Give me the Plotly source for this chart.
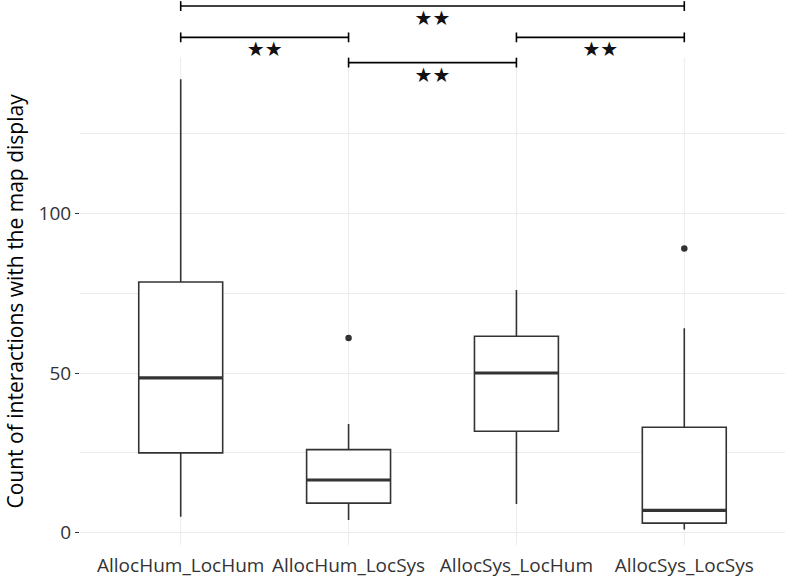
import plotly.graph_objects as go

# ---- data ----
groups = ["AllocHum_LocHum", "AllocHum_LocSys", "AllocSys_LocHum", "AllocSys_LocSys"]
lower_whisker = [5, 4, 9, 1]
q1_vals = [25, 9.25, 31.75, 3]
median_vals = [48.5, 16.5, 50, 7]
q3_vals = [78.5, 26, 61.5, 33]
upper_whisker = [142, 34, 76, 64]
outlier_group_idx = [1, 3]
outlier_values = [61, 89]

bracket_start = [0, 0, 2, 1]
bracket_end = [3, 1, 3, 2]
bracket_level = [164.9, 155.1, 155.1, 147.2]
bracket_label = ["★★", "★★", "★★", "★★"]
label_level = [160.6, 150.8, 150.8, 142.6]

y_ticks = [0, 50, 100]
y_minor = [25, 75, 125]
y_title = "Count of interactions with the map display"

# ---- styling ----
dark = "#333333"
grid = "#EBEBEB"
font_family = "Open Sans, Noto Sans, sans-serif"
xpos = list(range(len(groups)))
panel_top = 148.9
panel_bottom = -3.85

fig = go.Figure()

# vertical gridlines limited to the panel
for x in xpos:
    fig.add_shape(type="line", x0=x, x1=x, y0=panel_bottom, y1=panel_top,
                  xref="x", yref="y", line=dict(color=grid, width=1), layer="below")

fig.add_trace(go.Box(
    x=xpos, q1=q1_vals, median=median_vals, q3=q3_vals,
    lowerfence=lower_whisker, upperfence=upper_whisker,
    width=0.5, whiskerwidth=0, fillcolor="white",
    line=dict(color=dark, width=1.6), boxpoints=False, showlegend=False,
    hoverinfo="skip"))

# thicker median lines
fig.add_trace(go.Scatter(
    x=xpos, y=median_vals, mode="markers", showlegend=False, hoverinfo="skip",
    marker=dict(symbol="line-ew", size=60, line=dict(color=dark, width=3.2))))

# outliers
fig.add_trace(go.Scatter(
    x=outlier_group_idx, y=outlier_values, mode="markers", showlegend=False,
    marker=dict(color=dark, size=6.5)))

# significance brackets
for s, e, lvl, lab, ll in zip(bracket_start, bracket_end, bracket_level, bracket_label, label_level):
    fig.add_trace(go.Scatter(
        x=[s, e], y=[lvl, lvl], mode="lines+markers", showlegend=False, hoverinfo="skip",
        line=dict(color="black", width=1.6),
        marker=dict(symbol="line-ns", size=7, line=dict(color="black", width=1.6))))
    fig.add_trace(go.Scatter(
        x=[(s + e) / 2], y=[ll], mode="text", text=[lab], showlegend=False, hoverinfo="skip",
        textfont=dict(family="DejaVu Sans", size=20, color="#111111")))

# y-axis title centred on the panel (as ggplot does)
fig.add_annotation(
    text=y_title, textangle=-90, showarrow=False, borderpad=0,
    xref="paper", yref="paper", x=-0.0915, y=0.4477, xanchor="center", yanchor="middle",
    font=dict(size=21, color="black", family=font_family))

fig.update_layout(
    width=787, height=578,
    margin=dict(l=80, r=2, t=0, b=33),
    paper_bgcolor="white", plot_bgcolor="white",
    font=dict(family=font_family, color=dark),
    xaxis=dict(
        range=[-0.6, 3.6], tickvals=xpos, ticktext=groups, showgrid=False,
        zeroline=False, showline=False, ticks="", tickfont=dict(size=19, color=dark),
        ticklabelstandoff=7, automargin=False,
    ),
    yaxis=dict(
        range=[panel_bottom, 166.8], tickvals=y_ticks, showgrid=True, gridcolor=grid,
        gridwidth=1.2, zeroline=False, showline=False, ticks="outside", ticklen=4,
        tickcolor=dark, tickwidth=1.3, tickfont=dict(size=19, color=dark),
        minor=dict(tickvals=y_minor, showgrid=True, gridcolor=grid, gridwidth=1, ticks=""),
        automargin=False,
    ),
)

fig.write_html("out.html", config={"displayModeBar": False},
               post_script="document.body.style.margin='0';")
